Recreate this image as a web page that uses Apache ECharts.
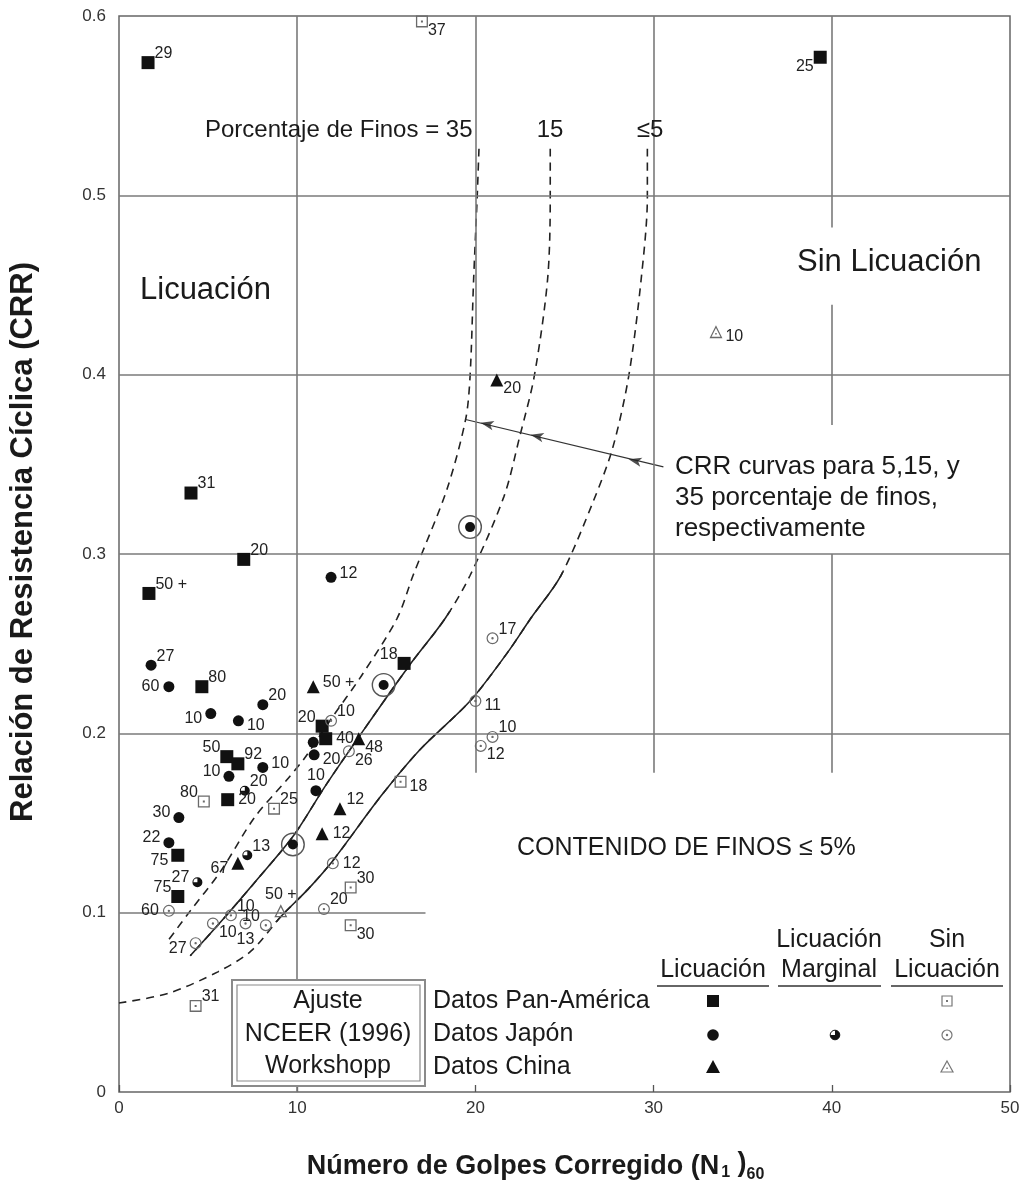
<!DOCTYPE html>
<html><head><meta charset="utf-8">
<script src="https://cdn.jsdelivr.net/npm/echarts/dist/echarts.min.js"></script>
<style>html,body{margin:0;padding:0;background:#fff}#c{width:1030px;height:1188px}</style>
</head><body><div id="c"></div><script>
// ---------- DATA ----------
const xTicks = [0, 10, 20, 30, 40, 50];
const yTicks = [0, 0.1, 0.2, 0.3, 0.4, 0.5, 0.6];

// [N1_60, CRR, label]
const panAmLiq = [
  [1.63,0.574,'29'],[39.35,0.577,'25'],[4.04,0.334,'31'],[7.0,0.297,'20'],
  [1.68,0.278,'50 +'],[4.65,0.226,'80'],[16.0,0.239,'18'],[6.05,0.187,'50'],
  [6.67,0.183,'92'],[6.1,0.163,'20'],[3.3,0.132,'75'],[3.3,0.109,'75'],
  [11.4,0.204,'20'],[11.6,0.197,'40']
];
const panAmNoLiq = [
  [17.0,0.597,'37'],[4.76,0.162,'80'],[8.7,0.158,'25'],[15.8,0.173,'18'],
  [13.0,0.114,'30'],[13.0,0.093,'30'],[4.3,0.048,'31']
];
const japanLiq = [
  [1.8,0.238,'27'],[2.8,0.226,'60'],[5.15,0.211,'10'],[6.7,0.207,'10'],
  [8.07,0.216,'20'],[11.9,0.287,'12'],[6.17,0.176,'10'],[8.07,0.181,'10'],
  [3.36,0.153,'30'],[2.8,0.139,'22'],[10.9,0.195,''],[10.95,0.188,'20'],
  [11.05,0.168,'10']
];
const japanRinged = [[19.7,0.315],[14.85,0.227],[9.76,0.138]];
const japanMarginal = [[7.06,0.168,'20'],[7.2,0.132,'13'],[4.4,0.117,'27']];
const japanNoLiq = [
  [20.96,0.253,'17'],[20.0,0.218,'11'],[20.96,0.198,'10'],[20.3,0.193,'12'],
  [11.9,0.207,'10'],[12.9,0.19,'26'],[12.0,0.1275,'12'],[11.5,0.102,'20'],
  [2.8,0.101,'60'],[4.3,0.083,'27'],[5.27,0.094,'10'],[6.28,0.0985,'10'],
  [7.1,0.094,'13'],[8.24,0.093,'10']
];
const chinaLiq = [
  [21.2,0.397,'20'],[10.9,0.226,'50 +'],[13.45,0.197,'48'],[12.4,0.158,'12'],
  [11.4,0.144,'12'],[6.67,0.1275,'67']
];
const chinaNoLiq = [[33.5,0.424,'10'],[9.08,0.101,'50 +']];

// CRR curves (fines content 35, 15, <=5 %)
const curve35 = [[20.2,0.526],[20.1,0.499],[19.9,0.453],[19.7,0.399],[19.45,0.375],[18.4,0.336],
  [16.5,0.288],[15.6,0.264],[13.6,0.232],[11.9,0.208],[10.4,0.186],[9.5,0.175],[7.6,0.153],
  [5.7,0.123],[4.0,0.101],[2.8,0.085]];
const curve15 = [[24.2,0.526],[24.2,0.499],[24.05,0.453],[23.3,0.399],[22.5,0.366],[21.6,0.332],
  [19.7,0.288],[18.3,0.264],[16.3,0.238],[13.6,0.200],[11.6,0.171],[9.8,0.143],[7.8,0.119],
  [5.9,0.097],[4.0,0.076]];
const curve5 = [[29.65,0.526],[29.65,0.499],[29.3,0.453],[28.6,0.399],[27.7,0.359],[26.6,0.329],
  [24.8,0.288],[23.1,0.264],[21.8,0.245],[19.7,0.218],[16.9,0.191],[14.7,0.165],[12.0,0.129],
  [10.6,0.113],[9.1,0.098],[7.4,0.0785],[5.55,0.067],[2.75,0.055],[0,0.0496]];
const curve15Solid = [0, 0.268];   // CRR range drawn solid
const curve5Solid = [0.095, 0.29];

// annotation leader (CRR curvas ...)
const leaderLine = [[19.45,0.375],[30.55,0.3486]];
const arrowTips = [[20.3,0.3732],[23.1,0.3665],[28.6,0.3528]];

// partial reference grid lines [[x1,y1],[x2,y2]]
const gridSegments = [
  [[0,0.5],[50,0.5]],[[0,0.4],[50,0.4]],[[0,0.3],[50,0.3]],[[0,0.2],[50,0.2]],[[0,0.1],[17.2,0.1]],
  [[10,0],[10,0.6]],[[20,0.178],[20,0.6]],[[30,0.178],[30,0.6]],
  [[40,0.482],[40,0.6]],[[40,0.372],[40,0.439]],[[40,0.178],[40,0.300]]
];

// label placements (style, kept apart from data)
const panAmLiqPos = ['tr','bl','tr','tr','tr','tr','tl','tl','tr','r','lb','tl','tl','r'];
const panAmNoLiqPos = ['br','tl','tr','rb','tr','br','tr'];
const japanLiqPos = ['tr','l','lb','rb','tr','rt','lt','rt','lt','lt','r','rb','t'];
const japanMarginalPos = ['tr','tr','lt'];
const japanNoLiqPos = ['tr','rb','tr','br','tr','br','r','tr','l','lb','br','tr','b','tl'];
const chinaLiqPos = ['br','rt','br','tr','r','lb'];
const chinaNoLiqPos = ['rb','t'];

// ---------- RENDER ----------
const FONT = 'Liberation Sans, Arial, Helvetica, sans-serif';
const PLACE = {
  tr:{position:'right',distance:1,offset:[-1,-9]}, rt:{position:'right',distance:3,offset:[0,-4]},
  r:{position:'right',distance:4}, rb:{position:'right',distance:3,offset:[0,5]},
  br:{position:'right',distance:1,offset:[-1,9]}, l:{position:'left',distance:4},
  lt:{position:'left',distance:3,offset:[0,-5]}, lb:{position:'left',distance:3,offset:[0,5]},
  tl:{position:'left',distance:1,offset:[1,-9]}, bl:{position:'left',distance:1,offset:[1,9]},
  t:{position:'top',distance:2}, b:{position:'bottom',distance:2}
};
function mk(arr, pos){
  return arr.map((d,i)=>({value:[d[0],d[1]],
    label:Object.assign({show:!!d[2], formatter:d[2]||''}, PLACE[pos[i]]||{})}));
}
const SQ_DOT = 'path://M0,0H12V12H0Z M1.3,1.3V10.7H10.7V1.3Z M5,5H7V7H5Z';
const CIRC_DOT = 'path://M6,0A6,6 0 1,1 6,12A6,6 0 1,1 6,0Z M6,1.2A4.8,4.8 0 1,0 6,10.8A4.8,4.8 0 1,0 6,1.2Z M6,4.8A1.2,1.2 0 1,1 6,7.2A1.2,1.2 0 1,1 6,4.8Z';
const TRI_DOT = 'path://M6,0L12,11H0Z M6,2.4L1.9,9.9H10.1Z M5.3,6.6H6.7V8H5.3Z';
const HALF = 'path://M6,0A6,6 0 1,1 6,12A6,6 0 1,1 6,0Z M6,1.2A4.8,4.8 0 1,0 6,10.8A4.8,4.8 0 1,0 6,1.2Z M6,6L6,0A6,6 0 1,1 0,6Z';
const RING = 'path://M12,0A12,12 0 1,1 12,24A12,12 0 1,1 12,0Z M12,1.4A10.6,10.6 0 1,0 12,22.6A10.6,10.6 0 1,0 12,1.4Z';

const lbl = {fontSize:16, color:'#222', fontFamily:FONT};
function scatter(name, data, symbol, size, color, z){
  return {name, type:'scatter', data, symbol, symbolSize:size, z:z||5,
    itemStyle:{color, opacity:1}, label:lbl, emphasis:{disabled:true}};
}
function lineS(data, type, width){
  return {type:'line', data, showSymbol:false, smooth:0.3, z:3, silent:true,
    lineStyle:{color:'#222', width:width||1.6, type:type}};
}
// solid overlay: colour comes from the visualMap (transparent outside the solid range)
function lineSolid(data){
  return {type:'line', data, showSymbol:false, smooth:0.3, z:3, silent:true,
    lineStyle:{width:1.6, type:'solid'}};
}

const chart = echarts.init(document.getElementById('c'), null, {renderer:'canvas'});

function T(text, x, y, size, align){
  return {type:'text', x, y, z:50, style:{text, fontSize:size, fontFamily:FONT, fill:'#1a1a1a',
    align:align||'left', textAlign:align||'left', verticalAlign:'middle', textVerticalAlign:'middle'}};
}
function L(x1,y1,x2,y2,w,c){ return {type:'line', z:50, shape:{x1,y1,x2,y2}, style:{stroke:c||'#333', lineWidth:w||1.5}}; }

const graphic = [
  T('Porcentaje de Finos = 35', 205, 130, 24),
  T('15', 550, 130, 24, 'center'),
  T('\u22645', 650, 130, 24, 'center'),
  T('Licuación', 140, 290, 31),
  T('Sin Licuación', 797, 262, 31),
  T('CRR curvas para 5,15, y', 675, 467, 26),
  T('35 porcentaje de finos,', 675, 498, 26),
  T('respectivamente', 675, 529, 26),
  T('CONTENIDO DE FINOS \u2264 5%', 517, 848, 25),
  // legend box
  {type:'rect', z:40, shape:{x:232,y:980,width:193,height:106}, style:{fill:'#fff', stroke:'#8a8a8a', lineWidth:2}},
  {type:'rect', z:41, shape:{x:237,y:985,width:183,height:96}, style:{fill:'none', stroke:'#8a8a8a', lineWidth:1.2}},
  T('Ajuste', 328, 1001, 25, 'center'),
  T('NCEER (1996)', 328, 1034, 25, 'center'),
  T('Workshopp', 328, 1066, 25, 'center'),
  T('Datos Pan-América', 433, 1001, 25),
  T('Datos Japón', 433, 1034, 25),
  T('Datos China', 433, 1067, 25),
  T('Licuación', 713, 970, 25, 'center'),
  T('Licuación', 829, 940, 25, 'center'),
  T('Marginal', 829, 970, 25, 'center'),
  T('Sin', 947, 940, 25, 'center'),
  T('Licuación', 947, 970, 25, 'center'),
  L(657,986,769,986), L(778,986,881,986), L(891,986,1003,986),
  // legend symbols
  {type:'rect', z:50, shape:{x:707,y:995,width:12,height:12}, style:{fill:'#111'}},
  {type:'circle', z:50, shape:{cx:713,cy:1035,r:5.8}, style:{fill:'#111'}},
  {type:'polygon', z:50, shape:{points:[[713,1060],[720,1073],[706,1073]]}, style:{fill:'#111'}},
  {type:'circle', z:50, shape:{cx:835,cy:1035,r:4.8}, style:{fill:'none', stroke:'#111', lineWidth:1}},
  {type:'sector', z:50, shape:{cx:835,cy:1035,r:4.8,r0:0,startAngle:-Math.PI/2,endAngle:Math.PI,clockwise:true}, style:{fill:'#111'}},
  {type:'rect', z:50, shape:{x:942,y:996,width:10,height:10}, style:{fill:'none', stroke:'#777', lineWidth:1.2}},
  {type:'rect', z:50, shape:{x:946,y:1000,width:2,height:2}, style:{fill:'#777'}},
  {type:'circle', z:50, shape:{cx:947,cy:1035,r:5}, style:{fill:'none', stroke:'#777', lineWidth:1.2}},
  {type:'circle', z:50, shape:{cx:947,cy:1035,r:1.2}, style:{fill:'#777'}},
  {type:'polygon', z:50, shape:{points:[[947,1061],[953,1072],[941,1072]]}, style:{fill:'none', stroke:'#777', lineWidth:1.2}},
  {type:'rect', z:50, shape:{x:946.3,y:1067.5,width:1.5,height:1.5}, style:{fill:'#777'}}
];

const option = {
  animation:false,
  backgroundColor:'#fff',
  textStyle:{fontFamily:FONT},
  grid:{left:118, right:20, top:16, bottom:94, show:true, borderColor:'#666', borderWidth:1.5, backgroundColor:'transparent'},
  xAxis:{type:'value', min:xTicks[0], max:xTicks[xTicks.length-1], interval:10,
    splitLine:{show:false}, axisLine:{show:false},
    axisTick:{show:true, inside:true, length:7, lineStyle:{color:'#555', width:1.3}},
    axisLabel:{fontSize:17, color:'#333', margin:8, fontFamily:FONT},
    name:'Número de Golpes Corregido (N{s1|1}{m| )}{s2|60}', nameLocation:'middle', nameGap:58,
    nameTextStyle:{fontSize:27, fontWeight:'bold', color:'#1a1a1a', fontFamily:FONT, verticalAlign:'top',
      padding:[0,58,0,0],
      rich:{
        s1:{fontSize:16, fontWeight:'bold', fontFamily:FONT, color:'#1a1a1a', verticalAlign:'top', padding:[15,0,0,2]},
        m:{fontSize:27, fontWeight:'bold', fontFamily:FONT, color:'#1a1a1a', verticalAlign:'top'},
        s2:{fontSize:16, fontWeight:'bold', fontFamily:FONT, color:'#1a1a1a', verticalAlign:'top', padding:[17,0,0,0]}
      }}},
  yAxis:{type:'value', min:yTicks[0], max:yTicks[yTicks.length-1], interval:0.1,
    splitLine:{show:false}, axisLine:{show:false}, axisTick:{show:false},
    axisLabel:{fontSize:17, color:'#333', margin:13, fontFamily:FONT, formatter:v=> v===0?'0':v.toFixed(1)},
    name:'Relación de Resistencia Cíclica (CRR)', nameLocation:'middle', nameGap:80, nameRotate:90,
    nameTextStyle:{fontSize:31, fontWeight:'bold', color:'#1a1a1a', fontFamily:FONT, padding:[0,0,0,24]}},
  visualMap:[
    {type:'piecewise', show:false, seriesIndex:3, dimension:1,
      pieces:[{gte:curve15Solid[0], lte:curve15Solid[1], color:'#222'}], outOfRange:{color:'rgba(255,255,255,0)'}},
    {type:'piecewise', show:false, seriesIndex:5, dimension:1,
      pieces:[{gte:curve5Solid[0], lte:curve5Solid[1], color:'#222'}], outOfRange:{color:'rgba(255,255,255,0)'}}
  ],
  graphic,
  series:[
    {type:'line', data:[], z:1, silent:true,
      markLine:{silent:true, symbol:['none','none'], label:{show:false}, animation:false,
        lineStyle:{color:'#7a7a7a', width:1.6, type:'solid'},
        emphasis:{disabled:true},
        data:gridSegments.map(s=>[{coord:s[0]},{coord:s[1]}])}},
    lineS(curve35, [8,6]),
    lineS(curve15, [8,6]),
    lineSolid(curve15),
    lineS(curve5, [8,6]),
    lineSolid(curve5),
    {type:'line', data:leaderLine, showSymbol:false, z:3, silent:true, lineStyle:{color:'#333', width:1.2}},
    {type:'scatter', data:arrowTips, symbol:'arrow', symbolSize:[7,13], symbolRotate:77, z:4, silent:true, itemStyle:{color:'#222'}},
    scatter('ringed', japanRinged, RING, 24, '#555', 4),
    scatter('ringedDot', japanRinged, 'circle', 10, '#111', 5),
    scatter('panAmLiq', mk(panAmLiq, panAmLiqPos), 'rect', 13, '#111'),
    scatter('panAmNoLiq', mk(panAmNoLiq, panAmNoLiqPos), SQ_DOT, 12, '#6a6a6a'),
    scatter('japanLiq', mk(japanLiq, japanLiqPos), 'circle', 11, '#111'),
    scatter('japanMarginal', mk(japanMarginal, japanMarginalPos), HALF, 10, '#111'),
    scatter('japanNoLiq', mk(japanNoLiq, japanNoLiqPos), CIRC_DOT, 12, '#6a6a6a'),
    scatter('chinaLiq', mk(chinaLiq, chinaLiqPos), 'triangle', 13, '#111'),
    scatter('chinaNoLiq', mk(chinaNoLiq, chinaNoLiqPos), TRI_DOT, 13, '#6a6a6a')
  ]
};
chart.setOption(option);
</script></body></html>
